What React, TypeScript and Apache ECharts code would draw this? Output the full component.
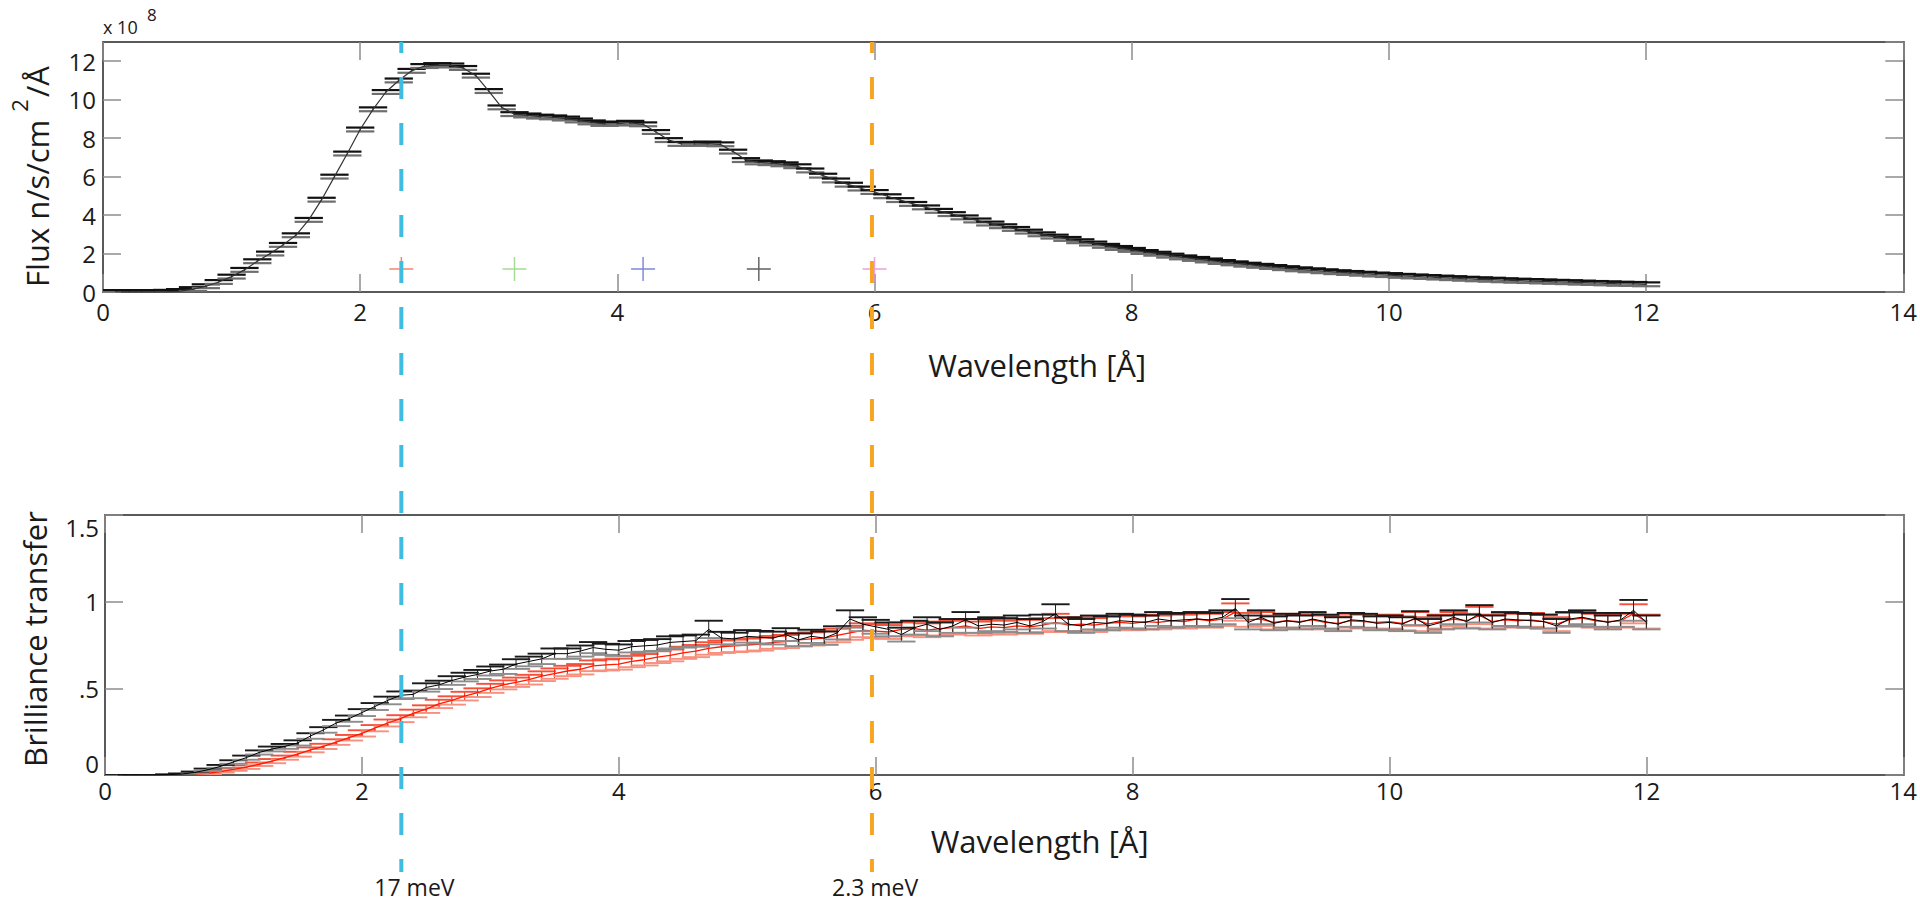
import React, { useEffect, useRef } from 'react';
import * as echarts from 'echarts';

// ---------------- data ----------------
const LAMBDA = [
  0.1, 0.2, 0.3, 0.4, 0.5, 0.6, 0.7, 0.8, 0.9, 1.0,
  1.1, 1.2, 1.3, 1.4, 1.5, 1.6, 1.7, 1.8, 1.9, 2.0,
  2.1, 2.2, 2.3, 2.4, 2.5, 2.6, 2.7, 2.8, 2.9, 3.0,
  3.1, 3.2, 3.3, 3.4, 3.5, 3.6, 3.7, 3.8, 3.9, 4.0,
  4.1, 4.2, 4.3, 4.4, 4.5, 4.6, 4.7, 4.8, 4.9, 5.0,
  5.1, 5.2, 5.3, 5.4, 5.5, 5.6, 5.7, 5.8, 5.9, 6.0,
  6.1, 6.2, 6.3, 6.4, 6.5, 6.6, 6.7, 6.8, 6.9, 7.0,
  7.1, 7.2, 7.3, 7.4, 7.5, 7.6, 7.7, 7.8, 7.9, 8.0,
  8.1, 8.2, 8.3, 8.4, 8.5, 8.6, 8.7, 8.8, 8.9, 9.0,
  9.1, 9.2, 9.3, 9.4, 9.5, 9.6, 9.7, 9.8, 9.9, 10.0,
  10.1, 10.2, 10.3, 10.4, 10.5, 10.6, 10.7, 10.8, 10.9, 11.0,
  11.1, 11.2, 11.3, 11.4, 11.5, 11.6, 11.7, 11.8, 11.9, 12.0,
];

// Flux in units of 1e8 n/s/cm^2/Å
const FLUX = [
  0, 0, 0, 0, 0.01, 0.05, 0.15, 0.3, 0.52, 0.8,
  1.15, 1.6, 2.0, 2.45, 2.95, 3.75, 4.8, 6.0, 7.2, 8.45,
  9.5, 10.4, 11.0, 11.5, 11.75, 11.8, 11.78, 11.65, 11.25, 10.45,
  9.6, 9.25, 9.18, 9.12, 9.08, 9.02, 8.92, 8.82, 8.74, 8.76,
  8.8, 8.72, 8.32, 7.9, 7.7, 7.7, 7.72, 7.68, 7.3, 6.86,
  6.74, 6.7, 6.64, 6.54, 6.32, 6.05, 5.8, 5.58, 5.38, 5.2,
  4.98, 4.78, 4.58, 4.4, 4.22, 4.05, 3.88, 3.72, 3.56, 3.42,
  3.28, 3.14, 3.0, 2.88, 2.76, 2.64, 2.52, 2.4, 2.29, 2.19,
  2.08, 1.99, 1.89, 1.8, 1.72, 1.64, 1.56, 1.49, 1.42, 1.36,
  1.3, 1.24, 1.18, 1.13, 1.08, 1.03, 0.99, 0.95, 0.91, 0.88,
  0.84, 0.81, 0.78, 0.75, 0.72, 0.69, 0.66, 0.64, 0.61, 0.59,
  0.57, 0.55, 0.53, 0.51, 0.49, 0.47, 0.45, 0.43, 0.42, 0.4,
];
const FLUX_Y_ERR = 0.1; // 1e8, read as the gap between the two caps
const BIN_HALF_WIDTH = 0.11; // Å, half length of the horizontal caps

const BT_BLACK = [
  0, 0, 0, 0, 0.002, 0.006, 0.015, 0.03, 0.05, 0.075,
  0.1, 0.13, 0.15, 0.165, 0.185, 0.225, 0.26, 0.3, 0.325, 0.36,
  0.395, 0.43, 0.46, 0.465, 0.505, 0.52, 0.545, 0.565, 0.58, 0.6,
  0.61, 0.64, 0.655, 0.67, 0.7, 0.7, 0.715, 0.735, 0.725, 0.72,
  0.74, 0.745, 0.75, 0.765, 0.77, 0.775, 0.84, 0.79, 0.785, 0.8,
  0.795, 0.79, 0.81, 0.78, 0.8, 0.79, 0.82, 0.9, 0.87, 0.855,
  0.84, 0.81, 0.85, 0.87, 0.84, 0.86, 0.895, 0.86, 0.87, 0.865,
  0.88, 0.86, 0.885, 0.93, 0.87, 0.86, 0.88, 0.875, 0.89, 0.885,
  0.88, 0.9, 0.89, 0.895, 0.9, 0.895, 0.91, 0.96, 0.88, 0.91,
  0.875, 0.89, 0.88, 0.9, 0.885, 0.87, 0.895, 0.89, 0.875, 0.88,
  0.87, 0.905, 0.86, 0.88, 0.91, 0.885, 0.93, 0.88, 0.9, 0.895,
  0.89, 0.885, 0.86, 0.9, 0.91, 0.895, 0.88, 0.895, 0.95, 0.88,
];
const BT_BLACK_ERR = [
  0, 0, 0, 0, 0.002, 0.003, 0.005, 0.007, 0.008, 0.01,
  0.012, 0.012, 0.014, 0.014, 0.015, 0.016, 0.016, 0.018, 0.018, 0.02,
  0.02, 0.022, 0.022, 0.022, 0.024, 0.024, 0.025, 0.025, 0.026, 0.026,
  0.027, 0.028, 0.028, 0.03, 0.03, 0.03, 0.032, 0.032, 0.032, 0.033,
  0.033, 0.034, 0.034, 0.035, 0.035, 0.035, 0.05, 0.036, 0.036, 0.036,
  0.036, 0.037, 0.037, 0.037, 0.038, 0.038, 0.038, 0.05, 0.04, 0.04,
  0.04, 0.04, 0.04, 0.04, 0.04, 0.04, 0.045, 0.04, 0.04, 0.04,
  0.04, 0.04, 0.04, 0.055, 0.04, 0.04, 0.04, 0.04, 0.04, 0.04,
  0.04, 0.04, 0.04, 0.04, 0.04, 0.04, 0.04, 0.055, 0.04, 0.04,
  0.04, 0.04, 0.04, 0.04, 0.04, 0.04, 0.04, 0.04, 0.04, 0.04,
  0.04, 0.04, 0.04, 0.04, 0.04, 0.04, 0.05, 0.04, 0.04, 0.04,
  0.04, 0.04, 0.04, 0.04, 0.04, 0.04, 0.04, 0.04, 0.06, 0.04,
];
const BT_RED = [
  0, 0, 0, 0, 0, 0.002, 0.005, 0.01, 0.02, 0.032,
  0.045, 0.062, 0.08, 0.1, 0.12, 0.145, 0.165, 0.19, 0.215, 0.24,
  0.27, 0.3, 0.325, 0.355, 0.38, 0.41, 0.43, 0.455, 0.475, 0.5,
  0.52, 0.535, 0.55, 0.57, 0.585, 0.6, 0.61, 0.63, 0.635, 0.64,
  0.655, 0.665, 0.68, 0.69, 0.705, 0.715, 0.73, 0.74, 0.745, 0.75,
  0.755, 0.765, 0.77, 0.78, 0.785, 0.79, 0.805, 0.82, 0.835, 0.83,
  0.825, 0.84, 0.845, 0.835, 0.845, 0.85, 0.86, 0.845, 0.855, 0.85,
  0.86, 0.855, 0.865, 0.88, 0.865, 0.87, 0.865, 0.875, 0.88, 0.875,
  0.885, 0.88, 0.89, 0.885, 0.9, 0.89, 0.9, 0.94, 0.895, 0.9,
  0.88, 0.89, 0.885, 0.895, 0.88, 0.875, 0.89, 0.885, 0.88, 0.885,
  0.875, 0.9, 0.87, 0.885, 0.9, 0.89, 0.92, 0.885, 0.895, 0.89,
  0.895, 0.885, 0.87, 0.895, 0.905, 0.89, 0.885, 0.89, 0.93, 0.885,
];
const BT_RED_ERR = [
  0, 0, 0, 0, 0, 0.002, 0.003, 0.005, 0.006, 0.008,
  0.01, 0.01, 0.012, 0.012, 0.014, 0.014, 0.015, 0.016, 0.016, 0.018,
  0.018, 0.02, 0.02, 0.022, 0.022, 0.024, 0.024, 0.025, 0.025, 0.026,
  0.026, 0.027, 0.028, 0.028, 0.03, 0.03, 0.03, 0.031, 0.032, 0.032,
  0.033, 0.033, 0.034, 0.034, 0.035, 0.035, 0.036, 0.036, 0.036, 0.037,
  0.037, 0.037, 0.038, 0.038, 0.038, 0.039, 0.039, 0.04, 0.04, 0.04,
  0.04, 0.04, 0.04, 0.04, 0.04, 0.04, 0.04, 0.04, 0.04, 0.04,
  0.04, 0.04, 0.04, 0.05, 0.04, 0.04, 0.04, 0.04, 0.04, 0.04,
  0.04, 0.04, 0.04, 0.04, 0.04, 0.04, 0.04, 0.05, 0.04, 0.04,
  0.04, 0.04, 0.04, 0.04, 0.04, 0.04, 0.04, 0.04, 0.04, 0.04,
  0.04, 0.04, 0.04, 0.04, 0.04, 0.04, 0.05, 0.04, 0.04, 0.04,
  0.04, 0.04, 0.04, 0.04, 0.04, 0.04, 0.04, 0.04, 0.055, 0.04,
];

const MARKER_X = [2.32, 3.2, 4.2, 5.1, 6.0];
const MARKER_Y = [1.2, 1.2, 1.2, 1.2, 1.2];
const MARKER_COLORS = ['#f2664a', '#8fd17a', '#5a6acc', '#3a3a3a', '#e58ad3'];

const ENERGY_X = [2.32, 5.98];
const ENERGY_LABELS = ['17 meV', '2.3 meV'];
const ENERGY_COLORS = ['#3fbde0', '#f7a623'];

const X_MIN = 0, X_MAX = 14, X_STEP = 2;
const FLUX_MIN = 0, FLUX_MAX = 13, FLUX_STEP = 2;
const BT_MIN = 0, BT_MAX = 1.5, BT_STEP = 0.5;

// ---------------- layout / style ----------------
const FONT = '"Open Sans", "Noto Sans", sans-serif';
const TXT = '#1a1a1a';
const GRID_TOP = { left: 103, top: 42, width: 1814, height: 250 };
const GRID_BOT = { left: 105, top: 515, width: 1813, height: 260 };
const LINE_Y1 = 42;
const LINE_Y2 = 872;
const LABEL_DX = [-27, -40];
const LABEL_Y = 887;

const axisLineStyle = { color: '#5a5a5a', width: 2 };
const tickStyle = { color: '#8c8c8c', width: 1.5 };

function errRender(capHi: string, capLo: string, stem: string, capW: number) {
  return (params: any, api: any) => {
    const x = api.value(0);
    const y = api.value(1);
    const e = api.value(2);
    const c = api.coord([x, y]);
    const lo = api.coord([x - BIN_HALF_WIDTH, y - e]);
    const hi = api.coord([x + BIN_HALF_WIDTH, y + e]);
    return {
      type: 'group',
      children: [
        { type: 'line', shape: { x1: c[0], y1: hi[1], x2: c[0], y2: lo[1] }, style: { stroke: stem, lineWidth: 1 } },
        { type: 'line', shape: { x1: lo[0], y1: lo[1], x2: hi[0], y2: lo[1] }, style: { stroke: capLo, lineWidth: capW } },
        { type: 'line', shape: { x1: lo[0], y1: hi[1], x2: hi[0], y2: hi[1] }, style: { stroke: capHi, lineWidth: capW } },
      ],
    };
  };
}

function xAxes(gridIndex: number, margin: number, nameGap: number, namePad: number) {
  return [
    {
      type: 'value', gridIndex, min: X_MIN, max: X_MAX, interval: X_STEP, position: 'bottom',
      axisLine: { show: true, onZero: false, lineStyle: axisLineStyle },
      axisTick: { show: true, inside: true, length: 18, lineStyle: tickStyle },
      axisLabel: { show: true, margin, fontSize: 24, color: TXT, fontFamily: FONT },
      splitLine: { show: false },
      name: 'Wavelength [Å]', nameLocation: 'middle', nameGap,
      nameTextStyle: { fontSize: 31, fontFamily: FONT, color: TXT, padding: [0, 0, 0, namePad] },
    },
    {
      type: 'value', gridIndex, min: X_MIN, max: X_MAX, interval: X_STEP, position: 'top',
      axisLine: { show: true, onZero: false, lineStyle: axisLineStyle },
      axisTick: { show: true, inside: true, length: 18, lineStyle: tickStyle },
      axisLabel: { show: false }, splitLine: { show: false },
    },
  ];
}

export default function App() {
  const ref = useRef<HTMLDivElement>(null);

  useEffect(() => {
    if (!ref.current) return;
    const chart = echarts.init(ref.current, undefined, { renderer: 'svg' });

    const fluxPts = LAMBDA.map((l, i) => [l, FLUX[i], FLUX_Y_ERR]);
    const blackPts = LAMBDA.map((l, i) => [l, BT_BLACK[i], BT_BLACK_ERR[i]]);
    const redPts = LAMBDA.map((l, i) => [l, BT_RED[i], BT_RED_ERR[i]]);

    const option: any = {
      animation: false,
      backgroundColor: '#ffffff',
      grid: [
        { ...GRID_TOP, containLabel: false },
        { ...GRID_BOT, containLabel: false },
      ],
      xAxis: [...xAxes(0, 7, 57, 68), ...xAxes(1, 3, 50, 71)],
      yAxis: [
        {
          type: 'value', gridIndex: 0, min: FLUX_MIN, max: FLUX_MAX, interval: FLUX_STEP, position: 'left',
          axisLine: { show: true, onZero: false, lineStyle: axisLineStyle },
          axisTick: { show: true, inside: true, length: 18, lineStyle: tickStyle },
          axisLabel: { show: true, margin: 7, fontSize: 24, color: TXT, fontFamily: FONT, showMaxLabel: false },
          splitLine: { show: false },
          name: '{t|Flux n/s/cm }{s|2}{t|/Å}', nameLocation: 'middle', nameGap: 51,
          nameTextStyle: {
            color: TXT, fontFamily: FONT, fontSize: 31, padding: [0, 19, 0, 0],
            rich: {
              t: { fontSize: 31, fontFamily: FONT, color: TXT, lineHeight: 32, verticalAlign: 'bottom' },
              s: { fontSize: 22, fontFamily: FONT, color: TXT, lineHeight: 22, verticalAlign: 'bottom', padding: [0, 2, 22, 0] },
            },
          },
        },
        {
          type: 'value', gridIndex: 0, min: FLUX_MIN, max: FLUX_MAX, interval: FLUX_STEP, position: 'right',
          axisLine: { show: true, onZero: false, lineStyle: axisLineStyle },
          axisTick: { show: true, inside: true, length: 18, lineStyle: tickStyle },
          axisLabel: { show: false }, splitLine: { show: false },
        },
        {
          type: 'value', gridIndex: 1, min: BT_MIN, max: BT_MAX, interval: BT_STEP, position: 'left',
          axisLine: { show: true, onZero: false, lineStyle: axisLineStyle },
          axisTick: { show: true, inside: true, length: 18, lineStyle: tickStyle },
          axisLabel: {
            show: true, margin: 6, fontSize: 24, color: TXT, fontFamily: FONT,
            verticalAlignMinLabel: 'bottom', verticalAlignMaxLabel: 'top',
            formatter: (v: number) => (v === 0.5 ? '.5' : String(v)),
          },
          splitLine: { show: false },
          name: 'Brilliance transfer', nameLocation: 'middle', nameGap: 55,
          nameTextStyle: { color: TXT, fontFamily: FONT, fontSize: 31, padding: [0, 0, 0, 12] },
        },
        {
          type: 'value', gridIndex: 1, min: BT_MIN, max: BT_MAX, interval: BT_STEP, position: 'right',
          axisLine: { show: true, onZero: false, lineStyle: axisLineStyle },
          axisTick: { show: true, inside: true, length: 18, lineStyle: tickStyle },
          axisLabel: { show: false }, splitLine: { show: false },
        },
      ],
      series: [
        {
          type: 'custom', name: 'flux-err', xAxisIndex: 0, yAxisIndex: 0, clip: true,
          renderItem: errRender('#111111', '#6e6e6e', '#333333', 2.2),
          data: fluxPts, z: 2,
        },
        {
          type: 'line', name: 'flux', xAxisIndex: 0, yAxisIndex: 0, showSymbol: false, symbol: 'none',
          lineStyle: { color: '#333333', width: 1.2 }, data: LAMBDA.map((l, i) => [l, FLUX[i]]), z: 3,
        },
        {
          type: 'scatter', name: 'markers', xAxisIndex: 0, yAxisIndex: 0,
          symbol: 'path://M-0.06,-1H0.06V-0.06H1V0.06H0.06V1H-0.06V0.06H-1V-0.06H-0.06Z',
          symbolSize: 24,
          data: MARKER_X.map((x, i) => ({ value: [x, MARKER_Y[i]], itemStyle: { color: MARKER_COLORS[i] } })),
          z: 4,
        },
        {
          type: 'custom', name: 'red-err', xAxisIndex: 2, yAxisIndex: 2, clip: true,
          renderItem: errRender('#f5503a', '#f7907e', '#ff1a00', 1.9),
          data: redPts, z: 2,
        },
        {
          type: 'line', name: 'red', xAxisIndex: 2, yAxisIndex: 2, showSymbol: false, symbol: 'none',
          lineStyle: { color: '#ff1a00', width: 1.3 }, data: LAMBDA.map((l, i) => [l, BT_RED[i]]), z: 2,
        },
        {
          type: 'custom', name: 'black-err', xAxisIndex: 2, yAxisIndex: 2, clip: true,
          renderItem: errRender('#1a1a1a', '#8c8c8c', '#222222', 1.9),
          data: blackPts, z: 3,
        },
        {
          type: 'line', name: 'black', xAxisIndex: 2, yAxisIndex: 2, showSymbol: false, symbol: 'none',
          lineStyle: { color: '#000000', width: 1 }, data: LAMBDA.map((l, i) => [l, BT_BLACK[i]]), z: 3,
        },
      ],
    };

    chart.setOption(option);

    const graphics: any[] = [
      {
        type: 'text', left: GRID_TOP.left, top: 18, z: 100,
        style: { text: 'x 10', fontSize: 18, fontFamily: FONT, fill: TXT },
      },
      {
        type: 'text', left: GRID_TOP.left + 44, top: 6, z: 100,
        style: { text: '8', fontSize: 17, fontFamily: FONT, fill: TXT },
      },
    ];
    ENERGY_X.forEach((ex, i) => {
      const px = chart.convertToPixel({ xAxisIndex: 0 }, ex) as number;
      graphics.push({
        type: 'line', z: 100,
        shape: { x1: px, y1: LINE_Y1, x2: px, y2: LINE_Y2 },
        style: { stroke: ENERGY_COLORS[i], lineWidth: 4, lineDash: [22, 24], lineDashOffset: 11 },
      });
      graphics.push({
        type: 'text', z: 100, x: px + LABEL_DX[i], y: LABEL_Y,
        style: { text: ENERGY_LABELS[i], fontSize: 23, fontFamily: FONT, fill: TXT, verticalAlign: 'middle', align: 'left' },
      });
    });
    chart.setOption({ graphic: graphics });

    return () => chart.dispose();
  }, []);

  return (
    <div
      ref={ref}
      style={{ position: 'fixed', left: 0, top: 0, width: 1920, height: 903, background: '#fff' }}
    />
  );
}
